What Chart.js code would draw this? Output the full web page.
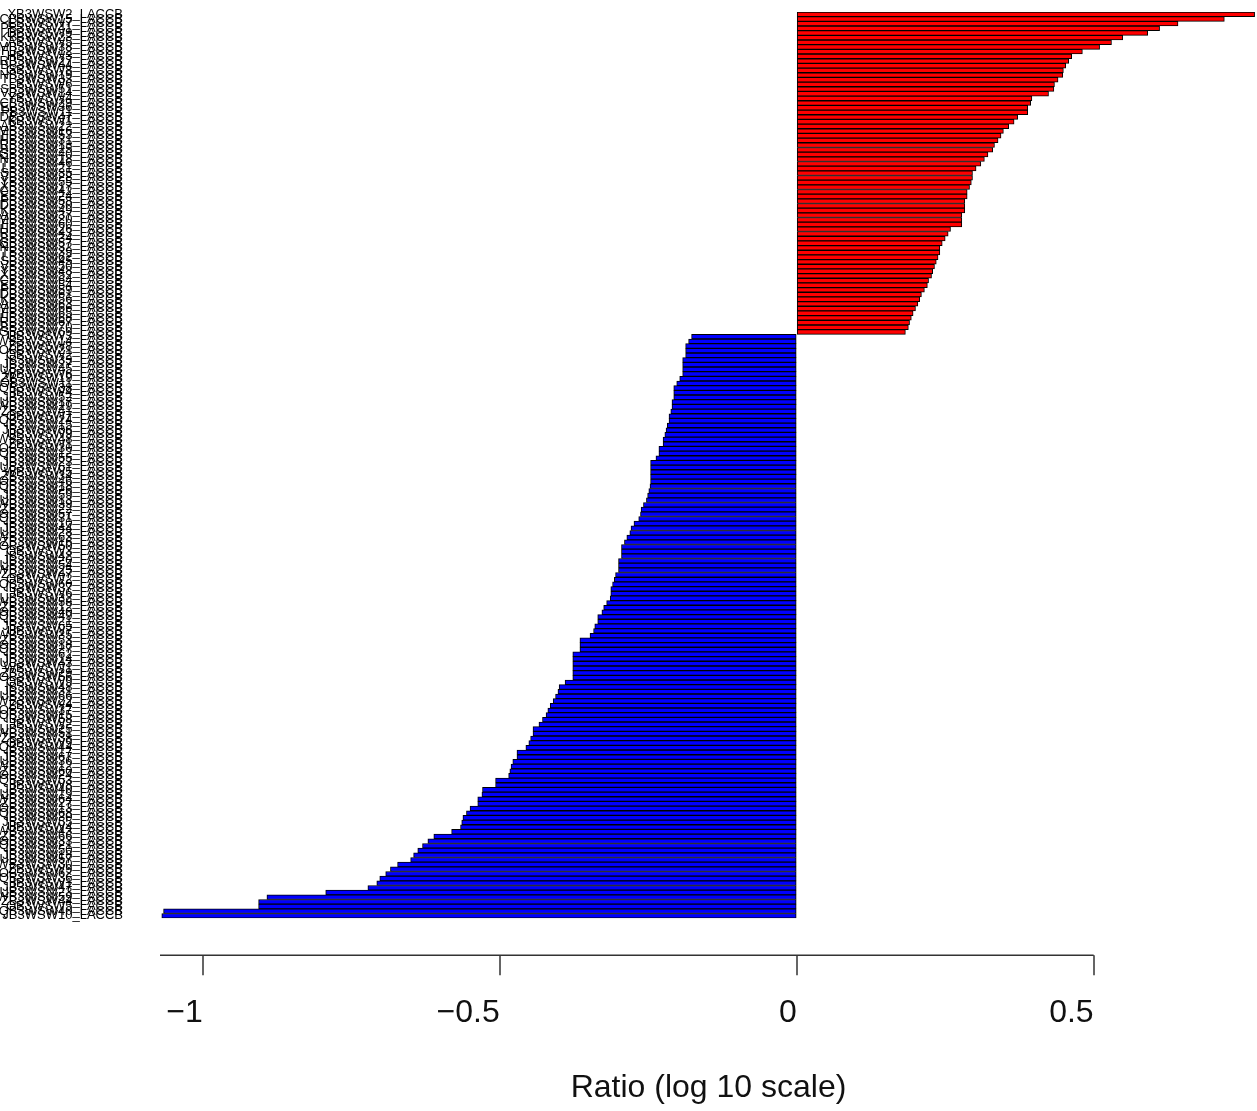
<!DOCTYPE html>
<html>
<head>
<meta charset="utf-8">
<title>Ratio (log 10 scale)</title>
<script src="https://cdn.jsdelivr.net/npm/chart.js@4.4.1/dist/chart.umd.min.js"></script>
<style>
  html, body { margin: 0; padding: 0; background: #fff; }
  #wrap { width: 1257px; height: 1111px; }
</style>
</head>
<body>
<div id="wrap"><canvas id="ratioChart" width="1257" height="1111"></canvas></div>
<script>
// Sample names (left labels, top to bottom)
const geneLabels = [
    'XB3WSW2_LACCB','CB3WSW15_LACCB','EB3WSW7_LACCB','PB3WSW41_LACCB','DB3WSW9_LACCB','KB3WSW23_LACCB','AB3WSW5_LACCB','MB3WSW38_LACCB',
    'FB3WSW12_LACCB','HB3WSW3_LACCB','RB3WSW27_LACCB','BB3WSW44_LACCB','GB3WSW8_LACCB','NB3WSW19_LACCB','TB3WSW33_LACCB','LB3WSW6_LACCB',
    'SB3WSW51_LACCB','VB3WSW14_LACCB','YB3WSW4_LACCB','CB3WSW29_LACCB','EB3WSW36_LACCB','PB3WSW11_LACCB','DB3WSW47_LACCB','KB3WSW1_LACCB',
    'AB3WSW22_LACCB','MB3WSW16_LACCB','FB3WSW53_LACCB','HB3WSW31_LACCB','RB3WSW13_LACCB','BB3WSW25_LACCB','GB3WSW40_LACCB','NB3WSW18_LACCB',
    'TB3WSW46_LACCB','LB3WSW21_LACCB','SB3WSW35_LACCB','VB3WSW28_LACCB','YB3WSW55_LACCB','XB3WSW17_LACCB','CB3WSW42_LACCB','EB3WSW24_LACCB',
    'PB3WSW58_LACCB','DB3WSW30_LACCB','KB3WSW49_LACCB','AB3WSW37_LACCB','MB3WSW20_LACCB','FB3WSW60_LACCB','HB3WSW26_LACCB','RB3WSW43_LACCB',
    'BB3WSW34_LACCB','GB3WSW57_LACCB','NB3WSW32_LACCB','TB3WSW39_LACCB','LB3WSW62_LACCB','SB3WSW45_LACCB','VB3WSW50_LACCB','YB3WSW48_LACCB',
    'XB3WSW52_LACCB','CB3WSW64_LACCB','EB3WSW54_LACCB','PB3WSW59_LACCB','DB3WSW61_LACCB','KB3WSW56_LACCB','AB3WSW63_LACCB','MB3WSW66_LACCB',
    'FB3WSW65_LACCB','HB3WSW68_LACCB','RB3WSW67_LACCB','BB3WSW70_LACCB','GB3WSW69_LACCB',
    'UB3WSW3_LACCB','WB3WSW14_LACCB','ZB3WSW8_LACCB','OB3WSW21_LACCB','QB3WSW2_LACCB','IB3WSW33_LACCB','JB3WSW27_LACCB','UB3WSW45_LACCB',
    'WB3WSW6_LACCB','ZB3WSW19_LACCB','OB3WSW11_LACCB','QB3WSW38_LACCB','IB3WSW4_LACCB','JB3WSW52_LACCB','UB3WSW17_LACCB','WB3WSW29_LACCB',
    'ZB3WSW41_LACCB','OB3WSW7_LACCB','QB3WSW24_LACCB','IB3WSW15_LACCB','JB3WSW36_LACCB','UB3WSW9_LACCB','WB3WSW48_LACCB','ZB3WSW1_LACCB',
    'OB3WSW30_LACCB','QB3WSW12_LACCB','IB3WSW55_LACCB','JB3WSW23_LACCB','UB3WSW61_LACCB','WB3WSW5_LACCB','ZB3WSW34_LACCB','OB3WSW46_LACCB',
    'QB3WSW18_LACCB','IB3WSW26_LACCB','JB3WSW59_LACCB','UB3WSW13_LACCB','WB3WSW39_LACCB','ZB3WSW22_LACCB','OB3WSW57_LACCB','QB3WSW31_LACCB',
    'IB3WSW10_LACCB','JB3WSW44_LACCB','UB3WSW28_LACCB','WB3WSW63_LACCB','ZB3WSW16_LACCB','OB3WSW50_LACCB','QB3WSW3_LACCB','IB3WSW42_LACCB',
    'JB3WSW20_LACCB','UB3WSW54_LACCB','WB3WSW25_LACCB','ZB3WSW47_LACCB','OB3WSW2_LACCB','QB3WSW60_LACCB','IB3WSW37_LACCB','JB3WSW6_LACCB',
    'UB3WSW32_LACCB','WB3WSW58_LACCB','ZB3WSW12_LACCB','OB3WSW40_LACCB','QB3WSW49_LACCB','IB3WSW21_LACCB','JB3WSW65_LACCB','UB3WSW7_LACCB',
    'WB3WSW35_LACCB','ZB3WSW53_LACCB','OB3WSW18_LACCB','QB3WSW27_LACCB','IB3WSW62_LACCB','JB3WSW14_LACCB','UB3WSW43_LACCB','WB3WSW1_LACCB',
    'ZB3WSW29_LACCB','OB3WSW56_LACCB','QB3WSW9_LACCB','IB3WSW48_LACCB','JB3WSW31_LACCB','UB3WSW66_LACCB','WB3WSW22_LACCB','ZB3WSW4_LACCB',
    'OB3WSW37_LACCB','QB3WSW15_LACCB','IB3WSW58_LACCB','JB3WSW2_LACCB','UB3WSW25_LACCB','WB3WSW51_LACCB','ZB3WSW38_LACCB','OB3WSW9_LACCB',
    'QB3WSW44_LACCB','IB3WSW17_LACCB','JB3WSW67_LACCB','UB3WSW36_LACCB','WB3WSW12_LACCB','ZB3WSW60_LACCB','OB3WSW24_LACCB','QB3WSW53_LACCB',
    'IB3WSW8_LACCB','JB3WSW40_LACCB','UB3WSW19_LACCB','WB3WSW64_LACCB','ZB3WSW27_LACCB','OB3WSW13_LACCB','QB3WSW68_LACCB','IB3WSW30_LACCB',
    'JB3WSW55_LACCB','UB3WSW4_LACCB','WB3WSW43_LACCB','ZB3WSW66_LACCB','OB3WSW33_LACCB','QB3WSW21_LACCB','IB3WSW50_LACCB','JB3WSW18_LACCB',
    'UB3WSW57_LACCB','WB3WSW30_LACCB','ZB3WSW9_LACCB','OB3WSW62_LACCB','QB3WSW36_LACCB','IB3WSW1_LACCB','JB3WSW47_LACCB','UB3WSW23_LACCB',
    'WB3WSW59_LACCB','ZB3WSW44_LACCB','OB3WSW5_LACCB','QB3WSW40_LACCB','JB3WSW10_LACCB'
];

// log10 ratios, same order as the labels
const ratioValues = [
    0.771, 0.720, 0.642, 0.611, 0.591, 0.549, 0.530, 0.510, 0.481, 0.463,
    0.458, 0.453, 0.449, 0.448, 0.440, 0.434, 0.433, 0.424, 0.396, 0.394,
    0.389, 0.389, 0.372, 0.366, 0.357, 0.348, 0.344, 0.339, 0.333, 0.330,
    0.322, 0.316, 0.310, 0.302, 0.296, 0.296, 0.294, 0.291, 0.287, 0.287,
    0.283, 0.283, 0.283, 0.278, 0.278, 0.278, 0.259, 0.255, 0.250, 0.245,
    0.241, 0.241, 0.238, 0.235, 0.232, 0.229, 0.227, 0.222, 0.220, 0.215,
    0.210, 0.207, 0.204, 0.200, 0.196, 0.193, 0.190, 0.188, 0.183,
    -0.177, -0.182, -0.187, -0.187, -0.187, -0.192, -0.192, -0.192, -0.192, -0.197,
    -0.202, -0.207, -0.207, -0.207, -0.210, -0.210, -0.212, -0.215, -0.215, -0.218,
    -0.220, -0.222, -0.225, -0.225, -0.232, -0.232, -0.237, -0.246, -0.246, -0.246,
    -0.246, -0.246, -0.247, -0.249, -0.251, -0.253, -0.258, -0.262, -0.263, -0.266,
    -0.274, -0.279, -0.281, -0.286, -0.290, -0.295, -0.295, -0.295, -0.300, -0.300,
    -0.300, -0.305, -0.307, -0.310, -0.313, -0.313, -0.314, -0.320, -0.325, -0.328,
    -0.335, -0.335, -0.340, -0.342, -0.348, -0.365, -0.365, -0.365, -0.377, -0.377,
    -0.377, -0.377, -0.377, -0.377, -0.390, -0.400, -0.402, -0.406, -0.410, -0.415,
    -0.419, -0.422, -0.428, -0.434, -0.444, -0.444, -0.448, -0.451, -0.456, -0.471,
    -0.471, -0.478, -0.481, -0.483, -0.485, -0.507, -0.507, -0.529, -0.530, -0.537,
    -0.537, -0.550, -0.556, -0.562, -0.564, -0.566, -0.581, -0.611, -0.621, -0.630,
    -0.638, -0.645, -0.650, -0.672, -0.684, -0.692, -0.702, -0.707, -0.722, -0.793,
    -0.892, -0.906, -0.906, -1.066, -1.069
];

// x axis ticks
const xTickValues = [-1, -0.5, 0, 0.5];
const xMin = -1.072;
const xMax = 0.775;

Chart.defaults.font.family = '"Liberation Sans", Arial, sans-serif';
Chart.defaults.color = '#000';

// R-style detached x axis: line from the left edge to the last tick, ticks pointing down
const rAxisPlugin = {
    id: 'rAxis',
    afterDraw(chart) {
        const x = chart.scales.x;
        const ctx = chart.ctx;
        const yLine = chart.chartArea.bottom + 37;
        ctx.save();
        ctx.strokeStyle = '#333';
        ctx.lineWidth = 1.5;
        ctx.beginPath();
        ctx.moveTo(x.getPixelForValue(xMin), yLine);
        ctx.lineTo(x.getPixelForValue(xTickValues[xTickValues.length - 1]), yLine);
        xTickValues.forEach(v => {
            const px = Math.round(x.getPixelForValue(v));
            ctx.moveTo(px, yLine);
            ctx.lineTo(px, yLine + 20);
        });
        ctx.stroke();
        ctx.restore();
    }
};

new Chart(document.getElementById('ratioChart'), {
    type: 'bar',
    data: {
        labels: geneLabels,
        datasets: [{
            data: ratioValues,
            backgroundColor: ratioValues.map(v => v >= 0 ? '#ff0000' : '#0000ff'),
            borderColor: '#000',
            borderWidth: 1,
            borderSkipped: false,
            barPercentage: 1,
            categoryPercentage: 1
        }]
    },
    options: {
        indexAxis: 'y',
        responsive: false,
        animation: false,
        layout: {
            padding: { top: 12, right: 0, bottom: 4, left: 0 }
        },
        plugins: {
            legend: { display: false },
            tooltip: { enabled: false }
        },
        scales: {
            x: {
                min: xMin,
                max: xMax,
                afterBuildTicks: scale => {
                    scale.ticks = xTickValues.map(v => ({ value: v }));
                },
                grid: {
                    display: true,
                    drawOnChartArea: false,
                    drawTicks: true,
                    tickLength: 71,
                    color: 'transparent'
                },
                border: { display: false },
                ticks: {
                    padding: 5,
                    align: 'end',
                    color: '#111',
                    font: { size: 32 },
                    maxRotation: 0,
                    callback: v => String(v).replace('-', '\u2212')
                },
                title: {
                    display: true,
                    text: 'Ratio (log 10 scale)',
                    color: '#111',
                    font: { size: 32 },
                    padding: { top: 31, bottom: 0 }
                }
            },
            y: {
                grid: {
                    display: true,
                    drawOnChartArea: false,
                    drawTicks: true,
                    tickLength: 37,
                    color: 'transparent'
                },
                border: { display: false },
                ticks: {
                    autoSkip: false,
                    padding: 0,
                    color: '#000',
                    font: { size: 13 }
                },
                afterFit: scale => {
                    scale.width = 160;
                }
            }
        }
    },
    plugins: [rAxisPlugin]
});
</script>
</body>
</html>
